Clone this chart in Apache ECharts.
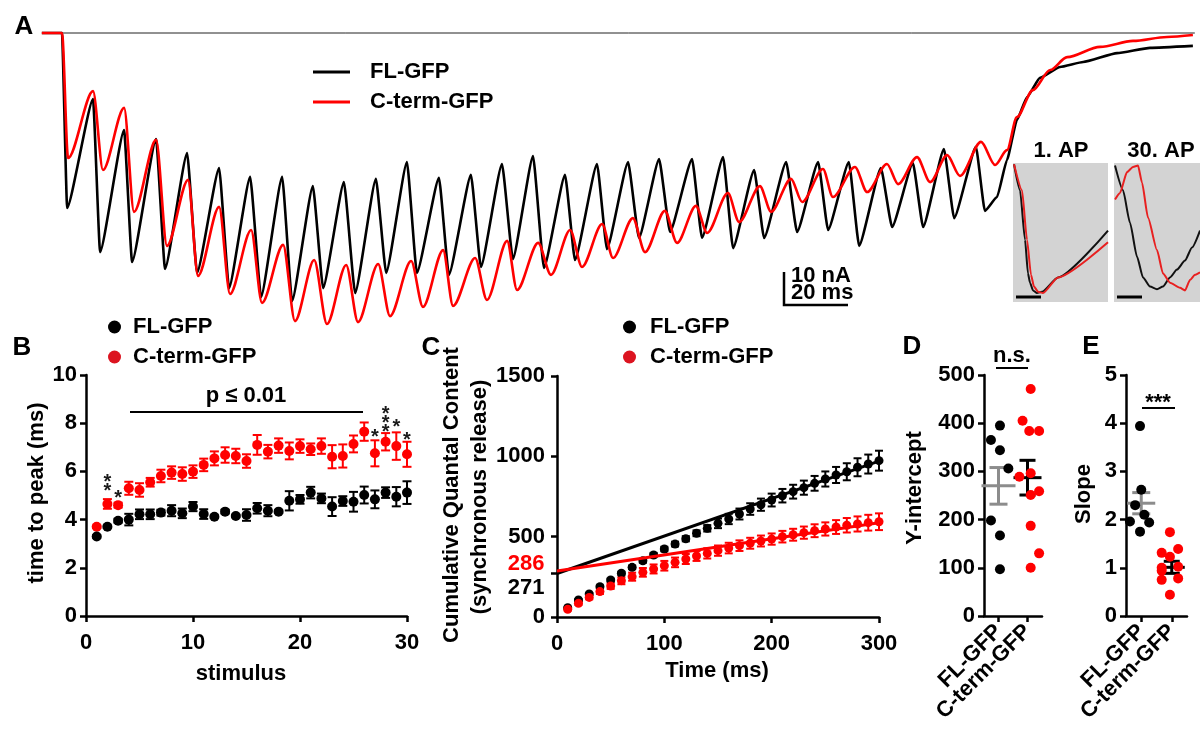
<!DOCTYPE html>
<html><head><meta charset="utf-8">
<script src="https://cdn.jsdelivr.net/npm/echarts@6/dist/echarts.min.js"></script>
<style>html,body{margin:0;padding:0;background:#fff}#c{width:1200px;height:729px}</style>
</head><body><div id="c"></div>
<script>
// ---------- Panel A: currents, [time ms, current nA] ----------
const A_BASELINE = [0, 354];
const A_FL = [[-6.3,0],[0,0],[1.6,-53.0],[9.7,-20.0],[11.9,-66.4],[19.4,-29.4],[21.9,-69.4],[29.4,-32.1],[32.2,-71.5],[39.1,-36.4],[42.2,-72.7],[49.1,-40.9],[52.2,-77.3],[58.8,-43.6],[62.2,-80.0],[68.8,-43.6],[71.9,-81.2],[78.4,-46.4],[81.6,-77.3],[88.1,-45.2],[91.6,-78.8],[98.1,-44.2],[101.3,-72.7],[107.8,-39.1],[110.9,-72.7],[117.8,-43.9],[120.9,-73.3],[127.8,-43.0],[130.9,-70.9],[137.5,-39.7],[140.9,-68.5],[147.2,-37.3],[150.6,-71.2],[157.2,-43.0],[160.3,-68.8],[167.2,-39.7],[170.3,-65.5],[176.9,-39.1],[180.3,-62.1],[186.6,-38.2],[190.0,-60.3],[196.9,-38.2],[200.0,-62.1],[206.6,-37.6],[209.7,-65.2],[216.3,-41.5],[219.4,-62.1],[226.3,-39.1],[229.7,-60.3],[236.3,-39.1],[239.4,-59.7],[245.9,-39.1],[249.1,-64.5],[255.9,-40.9],[259.4,-58.8],[265.9,-39.4],[269.1,-58.8],[275.6,-35.2],[278.8,-56.1],[285.6,-34.5],[288.4,-53.9],[292.2,-49.7],[295.3,-38.5],[298.4,-26.4],[301.6,-19.4],[305.6,-13.6],[311.9,-10.3],[319.1,-8.8],[329.7,-6.1],[340,-4.5],[353.4,-3.9]];
const A_CT = [[-6.3,0],[0,0],[1.9,-37.9],[9.7,-17.6],[12.8,-41.5],[19.4,-22.7],[22.5,-54.2],[29.4,-32.4],[32.8,-64.5],[39.4,-44.5],[42.5,-73.6],[49.1,-52.7],[52.5,-79.1],[59.1,-59.7],[62.5,-81.8],[69.1,-64.2],[72.8,-87.3],[78.8,-68.8],[82.8,-88.2],[88.8,-70.3],[92.5,-87.6],[98.8,-70.0],[102.5,-85.8],[109.1,-69.1],[112.8,-83.0],[119.1,-65.8],[122.2,-82.7],[129.1,-68.2],[132.8,-80.9],[139.1,-63.0],[142.2,-77.9],[148.8,-63.6],[152.8,-73.3],[158.8,-59.7],[162.5,-70.9],[168.8,-57.9],[172.2,-68.2],[178.4,-56.1],[182.2,-66.4],[188.4,-53.9],[192.2,-63.6],[198.1,-52.4],[201.6,-60.6],[208.1,-48.5],[211.6,-57.3],[218.1,-46.4],[221.6,-54.2],[227.8,-44.2],[231.3,-51.2],[237.8,-41.2],[240.9,-49.7],[247.8,-40.6],[251.6,-48.2],[257.8,-39.7],[261.3,-45.8],[267.2,-37.6],[271.3,-45.2],[276.6,-37.0],[280.6,-43.3],[287.2,-33.0],[291.6,-40.0],[295.3,-35.5],[298.4,-25.5],[303.4,-17.3],[308.8,-11.2],[314.1,-7.3],[324.4,-4.2],[334.7,-2.4],[345.3,-1.2],[353.4,-0.6]];
// insets: [time ms, normalised amplitude]
const AP1_FL = [[0.08,-0.01],[0.56,-0.21],[0.96,-0.59],[1.2,-0.85],[1.36,-0.92],[1.6,-0.98],[1.92,-1.0],[2.32,-0.99],[3.6,-0.88],[7.6,-0.52]];
const AP1_CT = [[0.08,-0.01],[0.72,-0.21],[1.12,-0.59],[1.44,-0.86],[1.68,-0.95],[2.0,-0.99],[2.4,-1.0],[3.6,-0.88],[7.6,-0.61]];
const AP30_FL = [[0.08,-0.02],[0.72,-0.21],[1.28,-0.46],[1.84,-0.72],[2.32,-0.88],[2.88,-0.95],[3.44,-0.97],[3.92,-0.95],[4.48,-0.88],[5.04,-0.82],[5.68,-0.75],[6.24,-0.65],[6.88,-0.52]];
const AP30_CT = [[0.08,-0.28],[0.48,-0.23],[1.04,-0.07],[1.52,-0.03],[1.92,-0.02],[2.24,-0.15],[2.72,-0.42],[3.44,-0.67],[3.92,-0.85],[4.48,-0.92],[5.28,-0.96],[5.68,-0.98],[6.08,-0.9],[6.48,-0.86],[6.88,-0.84]];

// ---------- Panel B: time to peak ----------
const B_STIM = [1,2,3,4,5,6,7,8,9,10,11,12,13,14,15,16,17,18,19,20,21,22,23,24,25,26,27,28,29,30];
const B_FL = [3.3,3.7,3.95,4.0,4.22,4.22,4.29,4.37,4.26,4.54,4.23,4.12,4.33,4.15,4.19,4.47,4.37,4.33,4.78,4.84,5.12,4.88,4.54,4.77,4.74,5.02,4.84,5.12,4.95,5.12];
const B_FL_ERR = [0.05,0.05,0.08,0.24,0.2,0.2,0.12,0.23,0.2,0.19,0.2,0.05,0.08,0.05,0.24,0.22,0.23,0.05,0.4,0.18,0.24,0.2,0.39,0.2,0.41,0.35,0.37,0.22,0.4,0.47];
const B_CT = [3.7,4.65,4.6,5.3,5.23,5.55,5.81,5.95,5.89,5.99,6.27,6.54,6.68,6.64,6.43,7.1,6.82,7.07,6.85,7.05,6.92,7.05,6.61,6.64,7.14,7.65,6.75,7.23,7.05,6.71];
const B_CT_ERR = [0.05,0.2,0.1,0.27,0.28,0.18,0.26,0.26,0.28,0.26,0.26,0.29,0.32,0.3,0.28,0.41,0.28,0.3,0.35,0.28,0.24,0.32,0.48,0.48,0.35,0.38,0.54,0.36,0.57,0.52];
const B_STARS = [[2,5.56,'**'],[3,5.1,'*'],[27,7.63,'*'],[28,8.2,'***'],[29,8.05,'*'],[30,7.5,'*']];

// ---------- Panel C: cumulative quantal content ----------
const C_TIME = [10,20,30,40,50,60,70,80,90,100,110,120,130,140,150,160,170,180,190,200,210,220,230,240,250,260,270,280,290,300];
const C_FL = [58,106,143,189,230,272,309,350,386,423,454,487,521,552,583,610,641,672,699,728,755,780,805,832,859,884,904,932,952,973];
const C_FL_ERR = [5,6,7,8,9,10,11,12,13,14,15,16,18,20,30,32,34,36,38,40,42,43,44,46,47,50,53,56,59,62];
const C_CT = [48,85,122,158,193,226,251,278,299,319,340,361,380,396,413,429,444,459,473,485,500,512,525,537,548,560,571,579,587,593];
const C_CT_ERR = [8,10,12,15,18,22,25,27,28,30,30,31,31,32,32,33,33,34,34,35,36,37,38,40,41,43,45,47,49,52];
const C_INTERCEPT = [271, 286];   // FL, C-term
const C_SLOPE = [2.33, 1.0];
const C_FIT_RANGE = [0, 300];

// ---------- Panels D & E ----------
const CATS = ['FL-GFP', 'C-term-GFP'];
const D_FL = [[0.05,395],[-0.26,365],[0.05,344],[0.34,306],[-0.26,198],[0.05,167],[0.05,97]];
const D_CT = [[1.11,471],[0.83,405],[1.06,384],[1.4,384],[1.11,296],[0.72,289],[1.4,259],[1.11,251],[1.11,187],[1.4,130],[1.11,100]];
const D_STATS = [[0,270,38],[1,287,36]];
const E_FL = [[-0.04,3.94],[0.0,2.62],[-0.2,2.3],[0.1,2.1],[-0.37,1.96],[0.26,1.94],[-0.04,1.75]];
const E_CT = [[0.94,1.74],[1.21,1.39],[0.67,1.31],[0.94,1.23],[0.67,1.0],[1.21,1.02],[0.67,0.94],[1.21,0.78],[0.67,0.75],[0.94,0.44]];
const E_STATS = [[0,2.34,0.22],[1,1.01,0.125]];

// ---------- styling ----------
const FONT = '"Liberation Sans", Arial, Helvetica, sans-serif';
const RED = '#ff0000', BLACK = '#000000', GRAY = '#8c8c8c';

function visAxis(gi, extra, labelExtra) {
  return Object.assign({
    gridIndex: gi,
    axisLine: {show: true, onZero: false, lineStyle: {color: '#000', width: 2.5}},
    axisTick: {show: true, length: 6, lineStyle: {color: '#000', width: 2.5}},
    splitLine: {show: false},
    axisLabel: Object.assign({color: '#000', fontSize: 22, fontWeight: 'bold', fontFamily: FONT}, labelExtra || {})
  }, extra);
}
function hidAxis(gi, min, max) {
  return {type: 'value', gridIndex: gi, min, max, show: false, splitLine: {show: false}};
}
function errSeries(xi, yi, data, color, capHalf, lw) {
  return {
    type: 'custom', xAxisIndex: xi, yAxisIndex: yi, data, silent: true,
    renderItem(params, api) {
      const x = api.value(0), y = api.value(1), e = api.value(2);
      const hi = api.coord([x, y + e]), lo = api.coord([x, y - e]);
      const st = {stroke: color, lineWidth: lw};
      return {type: 'group', children: [
        {type: 'line', shape: {x1: hi[0], y1: hi[1], x2: lo[0], y2: lo[1]}, style: st},
        {type: 'line', shape: {x1: hi[0] - capHalf, y1: hi[1], x2: hi[0] + capHalf, y2: hi[1]}, style: st},
        {type: 'line', shape: {x1: lo[0] - capHalf, y1: lo[1], x2: lo[0] + capHalf, y2: lo[1]}, style: st}
      ]};
    }
  };
}
function statSeries(xi, yi, data, color, meanHalf, capHalf) {
  return {
    type: 'custom', xAxisIndex: xi, yAxisIndex: yi, data, silent: true,
    renderItem(params, api) {
      const x = api.value(0), m = api.value(1), e = api.value(2);
      const c = api.coord([x, m]), hi = api.coord([x, m + e]), lo = api.coord([x, m - e]);
      const st = {stroke: color, lineWidth: 3};
      return {type: 'group', children: [
        {type: 'line', shape: {x1: c[0] - meanHalf, y1: c[1], x2: c[0] + meanHalf, y2: c[1]}, style: st},
        {type: 'line', shape: {x1: hi[0], y1: hi[1], x2: lo[0], y2: lo[1]}, style: st},
        {type: 'line', shape: {x1: hi[0] - capHalf, y1: hi[1], x2: hi[0] + capHalf, y2: hi[1]}, style: st},
        {type: 'line', shape: {x1: lo[0] - capHalf, y1: lo[1], x2: lo[0] + capHalf, y2: lo[1]}, style: st}
      ]};
    }
  };
}
function lineS(name, xi, yi, data, color, width, smooth) {
  return {type: 'line', name, xAxisIndex: xi, yAxisIndex: yi, data, symbol: 'none', showSymbol: false,
    smooth: smooth || false, smoothMonotone: 'x', silent: true,
    lineStyle: {color, width}, itemStyle: {color}};
}
function dots(name, xi, yi, data, color, size) {
  return {type: 'scatter', name, xAxisIndex: xi, yAxisIndex: yi, data, symbol: 'circle', symbolSize: size,
    itemStyle: {color, opacity: 1}, silent: true};
}
function txt(t, x, y, size, opts) {
  opts = opts || {};
  return {type: 'text', x, y, rotation: opts.rot ? Math.PI / 2 : 0, silent: true,
    style: {text: t, fill: opts.color || '#000', font: 'bold ' + size + 'px ' + FONT,
      textAlign: opts.align || 'center', textVerticalAlign: 'middle', align: opts.align || 'center', verticalAlign: 'middle'}};
}
function seg(x1, y1, x2, y2, w) {
  return {type: 'line', silent: true, shape: {x1, y1, x2, y2}, style: {stroke: '#000', lineWidth: w}};
}

const legendText = {fontSize: 22, fontWeight: 'bold', fontFamily: FONT, color: '#000', lineHeight: 24};
const plain = v => String(v);

const option = {
  animation: false,
  backgroundColor: '#fff',
  grid: [
    {left: 42, top: 0, width: 1158, height: 330},
    {left: 1013, top: 163, width: 95, height: 139, show: true, backgroundColor: '#d3d3d3', borderWidth: 0},
    {left: 1114, top: 163, width: 86, height: 139, show: true, backgroundColor: '#d3d3d3', borderWidth: 0},
    {left: 86, top: 375, width: 321, height: 241},
    {left: 557, top: 376, width: 322, height: 241},
    {left: 984, top: 375, width: 58, height: 241},
    {left: 1126, top: 375, width: 61, height: 241}
  ],
  xAxis: [
    hidAxis(0, -6.25, 355.625),
    hidAxis(1, 0, 7.6),
    hidAxis(2, 0, 6.88),
    visAxis(3, {type: 'value', min: 0, max: 30, interval: 10}, {margin: 16, formatter: plain}),
    visAxis(4, {type: 'value', min: 0, max: 300, interval: 100}, {margin: 16, formatter: plain}),
    visAxis(5, {type: 'category', data: CATS, boundaryGap: true, axisTick: {show: true, alignWithLabel: true, length: 6, lineStyle: {color: '#000', width: 2.5}}}, {rotate: 45, interval: 0, margin: 12}),
    hidAxis(5, -0.5, 1.5),
    visAxis(6, {type: 'category', data: CATS, boundaryGap: true, axisTick: {show: true, alignWithLabel: true, length: 6, lineStyle: {color: '#000', width: 2.5}}}, {rotate: 45, interval: 0, margin: 12}),
    hidAxis(6, -0.5, 1.5)
  ],
  yAxis: [
    hidAxis(0, -90, 10),
    hidAxis(1, -1.069, 0),
    hidAxis(2, -1.069, 0),
    visAxis(3, {type: 'value', min: 0, max: 10, interval: 2}, {margin: 9, formatter: plain}),
    visAxis(4, {type: 'value', min: 0, max: 1500, interval: 500,
      axisTick: {show: true, length: 6, lineStyle: {color: '#000', width: 2.5}, customValues: [0, C_INTERCEPT[0], 500, 1000, 1500]}},
      {margin: 12, formatter: plain, customValues: [0, 500, 1000, 1500]}),
    visAxis(5, {type: 'value', min: 0, max: 500, interval: 100}, {margin: 9, formatter: plain}),
    visAxis(6, {type: 'value', min: 0, max: 5, interval: 1}, {margin: 9, formatter: plain})
  ],
  legend: [
    {data: [{name: 'FL-GFP', icon: 'rect', itemStyle: {color: BLACK}}, {name: 'C-term-GFP', icon: 'rect', itemStyle: {color: RED}}],
      orient: 'vertical', left: 308, top: 55, padding: 5, itemWidth: 37, itemHeight: 3, itemGap: 6, selectedMode: false,
      textStyle: Object.assign({padding: [0, 0, 0, 15]}, legendText)},
    {data: [{name: 'FL-GFP', icon: 'circle', itemStyle: {color: BLACK}}, {name: 'C-term-GFP', icon: 'circle', itemStyle: {color: '#dc1420'}}],
      orient: 'vertical', left: 103, top: 310, padding: 5, itemWidth: 13, itemHeight: 13, itemGap: 6, selectedMode: false,
      textStyle: Object.assign({padding: [0, 0, 0, 7]}, legendText)},
    {data: [{name: 'FL-GFP', icon: 'circle', itemStyle: {color: BLACK}}, {name: 'C-term-GFP', icon: 'circle', itemStyle: {color: '#dc1420'}}],
      orient: 'vertical', left: 618, top: 310, padding: 5, itemWidth: 13, itemHeight: 13, itemGap: 6, selectedMode: false,
      textStyle: Object.assign({padding: [0, 0, 0, 9]}, legendText)}
  ],
  series: [
    // A
    lineS('baseline', 0, 0, A_BASELINE.map(t => [t, 0]), '#222', 1),
    lineS('FL-GFP', 0, 0, A_FL, BLACK, 2.6, 0.15),
    lineS('C-term-GFP', 0, 0, A_CT, RED, 2.6, 0.3),
    lineS('ap1fl', 1, 1, AP1_FL, '#111', 2, 0.2),
    lineS('ap1ct', 1, 1, AP1_CT, '#e82020', 2, 0.2),
    lineS('ap30fl', 2, 2, AP30_FL, '#111', 2, 0.2),
    lineS('ap30ct', 2, 2, AP30_CT, '#e82020', 2, 0.2),
    // B
    errSeries(3, 3, B_STIM.map((s, i) => [s, B_CT[i], B_CT_ERR[i]]), RED, 4.5, 2),
    dots('C-term-GFP', 3, 3, B_STIM.map((s, i) => [s, B_CT[i]]), RED, 10),
    errSeries(3, 3, B_STIM.map((s, i) => [s, B_FL[i], B_FL_ERR[i]]), BLACK, 4.5, 2),
    dots('FL-GFP', 3, 3, B_STIM.map((s, i) => [s, B_FL[i]]), BLACK, 10),
    {type: 'scatter', name: 'stars', xAxisIndex: 3, yAxisIndex: 3, data: B_STARS, symbolSize: 1, silent: true,
      itemStyle: {color: 'rgba(0,0,0,0)', opacity: 1},
      label: {show: true, position: 'inside', formatter: p => p.value[2].split('').join('\n'),
        color: '#1a1a1a', fontSize: 20, fontWeight: 'bold', fontFamily: FONT, lineHeight: 9, offset: [0, 5]}},
    // C
    lineS('fitFL', 4, 4, C_FIT_RANGE.map(t => [t, C_INTERCEPT[0] + C_SLOPE[0] * t]), BLACK, 3),
    lineS('fitCT', 4, 4, C_FIT_RANGE.map(t => [t, C_INTERCEPT[1] + C_SLOPE[1] * t]), RED, 3),
    errSeries(4, 4, C_TIME.map((t, i) => [t, C_FL[i], C_FL_ERR[i]]), BLACK, 4, 2),
    dots('FL-GFP', 4, 4, C_TIME.map((t, i) => [t, C_FL[i]]), BLACK, 9),
    errSeries(4, 4, C_TIME.map((t, i) => [t, C_CT[i], C_CT_ERR[i]]), RED, 4, 2),
    dots('C-term-GFP', 4, 4, C_TIME.map((t, i) => [t, C_CT[i]]), RED, 9),
    {type: 'scatter', name: 'intercepts', xAxisIndex: 4, yAxisIndex: 4, symbolSize: 1, silent: true, clip: false,
      itemStyle: {color: 'rgba(0,0,0,0)', opacity: 1},
      data: [
        {value: [0, C_INTERCEPT[1]], label: {color: RED, offset: [0, -7]}},
        {value: [0, C_INTERCEPT[0]], label: {color: BLACK, offset: [0, 14]}}
      ],
      label: {show: true, position: 'left', distance: 12, formatter: p => String(p.value[1]),
        fontSize: 22, fontWeight: 'bold', fontFamily: FONT}},
    // D
    dots('FL-GFP', 6, 5, D_FL, BLACK, 10),
    statSeries(6, 5, [D_STATS[0]], GRAY, 17, 9),
    dots('C-term-GFP', 6, 5, D_CT, RED, 10),
    statSeries(6, 5, [D_STATS[1]], BLACK, 14, 8),
    // E
    dots('FL-GFP', 8, 6, E_FL, BLACK, 10),
    statSeries(8, 6, [E_STATS[0]], GRAY, 14, 9),
    dots('C-term-GFP', 8, 6, E_CT, RED, 10),
    statSeries(8, 6, [E_STATS[1]], BLACK, 13, 8)
  ],
  graphic: [
    txt('A', 24, 27, 26), txt('B', 22, 348, 26), txt('C', 431, 348, 26), txt('D', 912, 347, 26), txt('E', 1091, 347, 26),
    txt('1. AP', 1061, 151, 22), txt('30. AP', 1161, 151, 22),
    txt('10 nA', 791, 276, 22, {align: 'left'}), txt('20 ms', 791, 293, 22, {align: 'left'}),
    {type: 'polyline', silent: true, shape: {points: [[784, 272], [784, 305], [848, 305]]}, style: {stroke: '#000', lineWidth: 2.5, fill: null}},
    seg(1016, 297, 1041, 297, 3), seg(1117, 297, 1142, 297, 3),
    txt('p \u2264 0.01', 246, 396, 22), seg(130, 412, 363, 412, 2),
    txt('n.s.', 1012, 356, 22), seg(996, 368, 1028, 368, 2),
    txt('***', 1158, 403, 22), seg(1142, 408, 1175, 408, 2),
    txt('time to peak (ms)', 37, 493, 22, {rot: true}),
    txt('stimulus', 241, 674, 22),
    txt('Cumulative Quantal Content', 452, 495, 22, {rot: true}),
    txt('(synchronous release)', 480, 497, 22, {rot: true}),
    txt('Time (ms)', 717, 671, 22),
    txt('Y-intercept', 915, 488, 22, {rot: true}),
    txt('Slope', 1084, 494, 22, {rot: true})
  ]
};
const chart = echarts.init(document.getElementById('c'), null, {renderer: 'canvas'});
chart.setOption(option);
</script></body></html>
